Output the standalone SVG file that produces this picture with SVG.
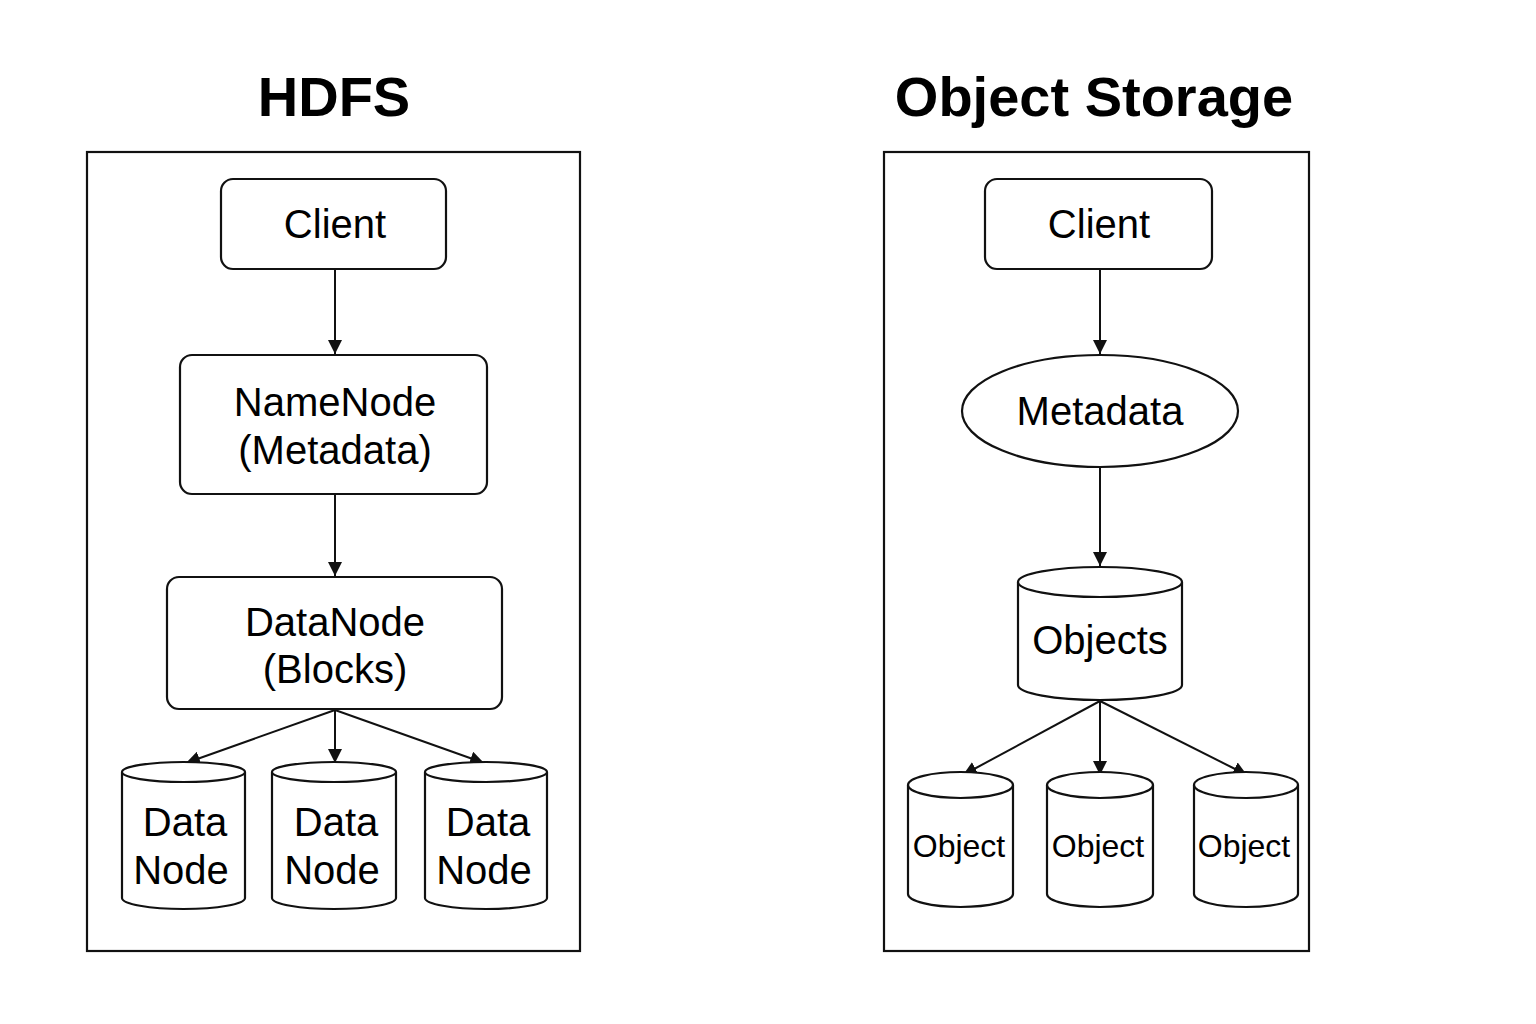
<svg xmlns="http://www.w3.org/2000/svg" width="1536" height="1024" viewBox="0 0 1536 1024">
<defs>
<style>
.s{fill:#fff;stroke:#111;stroke-width:2.2}
.t{font-family:"Liberation Sans",Arial,sans-serif;fill:#000;text-anchor:middle;dominant-baseline:central}
.m{font-size:40px}
.h{font-family:"Liberation Sans",Arial,sans-serif;font-weight:bold;font-size:56px;text-anchor:middle;fill:#000}
.c{stroke:#111;stroke-width:2;fill:none;marker-end:url(#a)}
</style>
<marker id="a" viewBox="0 0 14 14" refX="14" refY="7" markerWidth="14" markerHeight="14" markerUnits="userSpaceOnUse" orient="auto">
<path d="M0,0 L14,7 L0,14 z" fill="#111"/>
</marker>
</defs>
<rect width="1536" height="1024" fill="#fff"/>
<text class="h" x="334" y="116">HDFS</text>
<text class="h" x="1094" y="116">Object Storage</text>
<g id="hdfs-panel"><rect class="s" x="87" y="152" width="493" height="799"/></g>
<g id="os-panel"><rect class="s" x="884" y="152" width="425" height="799"/></g>
<g id="connectors">
<line class="c" x1="335" y1="269" x2="335" y2="354"/>
<line class="c" x1="335" y1="494" x2="335" y2="576"/>
<line class="c" x1="335" y1="710" x2="186" y2="763"/>
<line class="c" x1="335" y1="710" x2="335" y2="763"/>
<line class="c" x1="335" y1="710" x2="484" y2="763"/>
<line class="c" x1="1100" y1="269" x2="1100" y2="354"/>
<line class="c" x1="1100" y1="467" x2="1100" y2="566"/>
<line class="c" x1="1100" y1="701" x2="963" y2="775"/>
<line class="c" x1="1100" y1="701" x2="1100" y2="775"/>
<line class="c" x1="1100" y1="701" x2="1247" y2="775"/>
</g>
<g id="hdfs-client"><rect class="s" x="221" y="179" width="225" height="90" rx="12"/><text class="t m" x="335" y="224">Client</text></g>
<g id="namenode"><rect class="s" x="180" y="355" width="307" height="139" rx="12"/><text class="t m" x="335" y="402">NameNode</text><text class="t m" x="335" y="450">(Metadata)</text></g>
<g id="datanode-main"><rect class="s" x="167" y="577" width="335" height="132" rx="12"/><text class="t m" x="335" y="622">DataNode</text><text class="t m" x="335" y="669">(Blocks)</text></g>
<g id="dn1"><path class="s" d="M122,772 V898 A61.5,11 0 0 0 245,898 V772"/><ellipse class="s" cx="183.5" cy="772" rx="61.5" ry="10"/><text class="t m" x="185" y="822">Data</text><text class="t m" x="181" y="870">Node</text></g>
<g id="dn2"><path class="s" d="M272,772 V898 A62,11 0 0 0 396,898 V772"/><ellipse class="s" cx="334" cy="772" rx="62" ry="10"/><text class="t m" x="336" y="822">Data</text><text class="t m" x="332" y="870">Node</text></g>
<g id="dn3"><path class="s" d="M425,772 V898 A61,11 0 0 0 547,898 V772"/><ellipse class="s" cx="486" cy="772" rx="61" ry="10"/><text class="t m" x="488" y="822">Data</text><text class="t m" x="484" y="870">Node</text></g>
<g id="os-client"><rect class="s" x="985" y="179" width="227" height="90" rx="12"/><text class="t m" x="1099" y="224">Client</text></g>
<g id="metadata"><ellipse class="s" cx="1100" cy="411" rx="138" ry="56"/><text class="t m" x="1100" y="411">Metadata</text></g>
<g id="objects"><path class="s" d="M1018,582 V685 A82,15 0 0 0 1182,685 V582"/><ellipse class="s" cx="1100" cy="582" rx="82" ry="15"/><text class="t m" x="1100" y="640">Objects</text></g>
<g id="obj1"><path class="s" d="M908,785 V894 A52.5,13 0 0 0 1013,894 V785"/><ellipse class="s" cx="960.5" cy="785" rx="52.5" ry="13"/><text class="t" x="959" y="846" font-size="32">Object</text></g>
<g id="obj2"><path class="s" d="M1047,785 V894 A53,13 0 0 0 1153,894 V785"/><ellipse class="s" cx="1100" cy="785" rx="53" ry="13"/><text class="t" x="1098" y="846" font-size="32">Object</text></g>
<g id="obj3"><path class="s" d="M1194,785 V894 A52,13 0 0 0 1298,894 V785"/><ellipse class="s" cx="1246" cy="785" rx="52" ry="13"/><text class="t" x="1244" y="846" font-size="32">Object</text></g>
</svg>
